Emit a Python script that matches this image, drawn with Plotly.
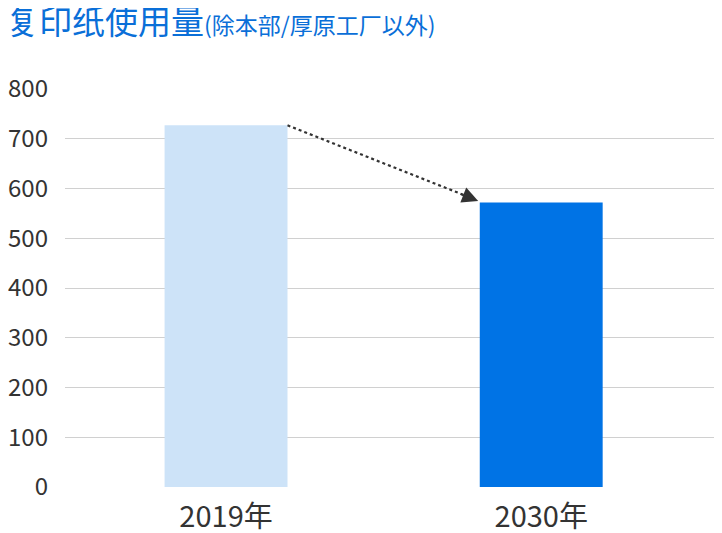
import plotly.graph_objects as go

years = ["2019年", "2030年"]
usage = [727, 572]
bar_colors = ["#cde3f8", "#0073e5"]
y_ticks = [0, 100, 200, 300, 400, 500, 600, 700, 800]

font = "Noto Sans CJK JP"
bar_w = 0.39
x_pos = list(range(len(years)))

fig = go.Figure()
fig.add_trace(go.Bar(x=x_pos, y=usage, width=bar_w, marker_color=bar_colors,
                     marker_line_width=0, hoverinfo="skip"))

# dotted arrow from top-right of first bar to top-left of second bar
x0 = x_pos[0] + bar_w / 2
x1 = x_pos[1] - bar_w / 2 - 0.005
y0 = usage[0]
y1 = usage[1] + 3
fig.add_trace(go.Scatter(x=[x0, x1 - 0.03], y=[y0, y1 + 8], mode="lines",
                         line=dict(color="#333333", width=2.2, dash="dot"),
                         hoverinfo="skip"))
fig.add_annotation(x=x1, y=y1, ax=x1 - 0.06, ay=y1 + 15, xref="x", yref="y",
                   axref="x", ayref="y", showarrow=True, arrowhead=2,
                   arrowsize=1.6, arrowwidth=2, arrowcolor="#333333", text="")

fig.add_annotation(x=0, y=1, xref="paper", yref="paper", xanchor="left", yanchor="middle",
                   xshift=-61, yshift=68, showarrow=False,
                   text="<span style='font-size:33px'>复印纸使用量</span>"
                        "<span style='font-size:23px'>(除本部/厚原工厂以外)</span>",
                   font=dict(family=font, color="#0a6fd8"))

fig.update_layout(
    width=722, height=533,
    margin=dict(l=53, r=0, t=80, b=54),
    plot_bgcolor="white", paper_bgcolor="white",
    showlegend=False,
    font=dict(family=font, color="#333333", size=24),
    xaxis=dict(range=[-0.511, 1.599], tickvals=x_pos, ticktext=years,
               tickfont=dict(size=29), showgrid=False, zeroline=False,
               showline=False, ticks=""),
    yaxis=dict(range=[0, 802], tickvals=y_ticks, showgrid=True,
               gridcolor="#d0d0d0", gridwidth=1, zeroline=False,
               showline=False, ticks="", tickfont=dict(size=24)),
)
fig.update_yaxes(ticklabelstandoff=16)
fig.update_xaxes(ticklabelstandoff=10)
fig.write_html("out.html")
